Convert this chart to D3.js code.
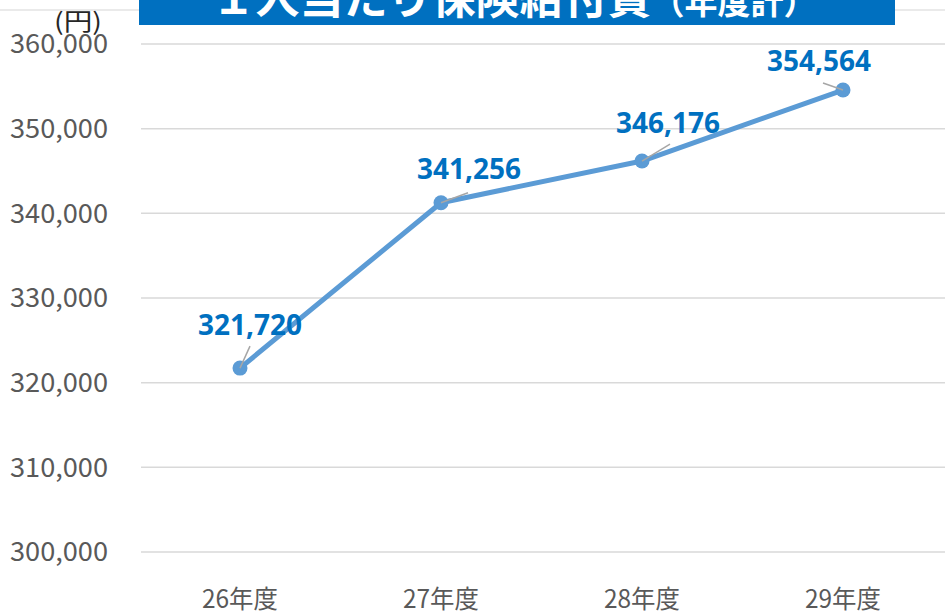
<!DOCTYPE html>
<html>
<head>
<meta charset="utf-8">
<script src="https://cdn.jsdelivr.net/npm/d3@7"></script>
<style>
  body { margin: 0; background: #fff; }
  svg { display: block; font-family: "Noto Sans CJK JP", "Noto Sans", sans-serif; }
</style>
</head>
<body>
<div id="chart"></div>
<script>
"use strict";

var categories = ['26年度', '27年度', '28年度', '29年度'];
var values = [321720, 341256, 346176, 354564];
var yTicks = [300000, 310000, 320000, 330000, 340000, 350000, 360000];
// label offsets from each point (dx, dy)
var labelOffsets = [[10, -43], [28, -33], [26, -38], [-24, -29]];
var leaderEnds = [[10, -22], [27, -10], [28, -17], [-20, -7]];

var width = 945;
var height = 614;

var svg = d3.select('#chart').append('svg')
  .attr('width', width).attr('height', height);

var x = d3.scalePoint().domain(categories).range([240, 843]);
var y = d3.scaleLinear().domain([300000, 360000]).range([552, 44]);

// faint top border
svg.append('line').attr('x1', 0).attr('x2', width).attr('y1', 10).attr('y2', 10)
  .attr('stroke', '#e3e3e3').attr('stroke-width', 1.5);

// gridlines
svg.append('g').selectAll('line').data(yTicks).enter().append('line')
  .attr('x1', 141).attr('x2', width)
  .attr('y1', function (d) { return y(d); })
  .attr('y2', function (d) { return y(d); })
  .attr('stroke', '#d9d9d9').attr('stroke-width', 1.5);

// y labels
svg.append('g').selectAll('text').data(yTicks).enter().append('text')
  .attr('x', 108).attr('y', function (d) { return y(d); })
  .attr('dy', '0.36em').attr('text-anchor', 'end')
  .attr('fill', '#595959').style('font-size', '26px')
  .attr('textLength', 98).attr('lengthAdjust', 'spacingAndGlyphs')
  .text(function (d) { return d3.format(',')(d); });

svg.append('text').attr('x', 78).attr('y', 30)
  .attr('text-anchor', 'middle').attr('fill', '#262626')
  .style('font-size', '24px')
  .attr('textLength', 48).attr('lengthAdjust', 'spacingAndGlyphs')
  .text('(円)');

// x labels
svg.append('g').selectAll('text').data(categories).enter().append('text')
  .attr('x', function (d) { return x(d); }).attr('y', 608)
  .attr('text-anchor', 'middle').attr('fill', '#595959')
  .style('font-size', '25px')
  .attr('textLength', 76).attr('lengthAdjust', 'spacingAndGlyphs')
  .text(function (d) { return d; });

// title box
svg.append('rect').attr('x', 139).attr('y', -2).attr('width', 756).attr('height', 27)
  .attr('fill', '#0070C0');
var title = svg.append('text').attr('x', 514).attr('y', 14)
  .attr('text-anchor', 'middle').attr('fill', '#fff')
  .style('font-weight', 'bold').style('font-size', '44px');
title.append('tspan').text('１人当たり保険給付費');
title.append('tspan').style('font-size', '33px').text('（年度計）');

var data = categories.map(function (c, i) {
  return { c: c, v: values[i], off: labelOffsets[i], lead: leaderEnds[i] };
});

var line = d3.line()
  .x(function (d) { return x(d.c); })
  .y(function (d) { return y(d.v); });

svg.append('path').datum(data).attr('d', line)
  .attr('fill', 'none').attr('stroke', '#5B9BD5').attr('stroke-width', 5)
  .attr('stroke-linejoin', 'round');

svg.append('g').selectAll('circle').data(data).enter().append('circle')
  .attr('cx', function (d) { return x(d.c); })
  .attr('cy', function (d) { return y(d.v); })
  .attr('r', 7.5).attr('fill', '#5B9BD5');

// leader lines, drawn over markers
svg.append('g').selectAll('line').data(data).enter().append('line')
  .attr('x1', function (d) { return x(d.c); })
  .attr('y1', function (d) { return y(d.v); })
  .attr('x2', function (d) { return x(d.c) + d.lead[0]; })
  .attr('y2', function (d) { return y(d.v) + d.lead[1]; })
  .attr('stroke', '#a6a6a6').attr('stroke-width', 1.5);

svg.append('g').selectAll('text').data(data).enter().append('text')
  .attr('x', function (d) { return x(d.c) + d.off[0]; })
  .attr('y', function (d) { return y(d.v) + d.off[1]; })
  .attr('dy', '0.35em').attr('text-anchor', 'middle')
  .attr('fill', '#0070C0').style('font-weight', 'bold').style('font-size', '28px')
  .style('font-family', '"Noto Sans", sans-serif')
  .text(function (d) { return d3.format(',')(d.v); });
</script>
</body>
</html>
